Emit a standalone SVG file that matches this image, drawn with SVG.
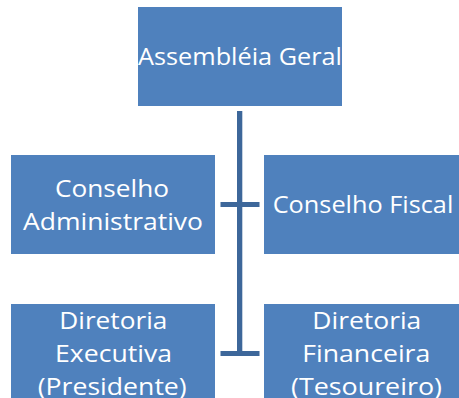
<svg xmlns="http://www.w3.org/2000/svg" width="459" height="398" viewBox="0 0 459 398">
<style>
.box{fill:#4F81BD;stroke:#ffffff;stroke-width:1}
.t{font-family:"Open Sans","Liberation Sans",Arial,sans-serif;font-size:24.5px;fill:#ffffff;}
.c{fill:#3D679A}
</style>
<rect width="459" height="398" fill="#ffffff"/>
<g id="connectors">
<rect class="c" x="237" y="111" width="5.3" height="245"/>
<rect class="c" x="220.5" y="202" width="39" height="5"/>
<rect class="c" x="220.5" y="351" width="39" height="5"/>
</g>
<g id="assembleia">
<rect class="box" x="137.5" y="6.5" width="205" height="100"/>
<text class="t" x="138" y="65" textLength="204" lengthAdjust="spacingAndGlyphs">Assembléia Geral</text>
</g>
<g id="conselho-administrativo">
<rect class="box" x="10.5" y="154.5" width="205" height="100"/>
<text class="t" x="55" y="197" textLength="114" lengthAdjust="spacingAndGlyphs">Conselho</text>
<text class="t" x="23" y="229.5" textLength="180" lengthAdjust="spacingAndGlyphs">Administrativo</text>
</g>
<g id="conselho-fiscal">
<rect class="box" x="263.5" y="154.5" width="205" height="100"/>
<text class="t" x="272.7" y="212.7" textLength="180.6" lengthAdjust="spacingAndGlyphs">Conselho Fiscal</text>
</g>
<g id="diretoria-executiva">
<rect class="box" x="10.5" y="303.5" width="205" height="100"/>
<text class="t" x="59.3" y="329" textLength="108" lengthAdjust="spacingAndGlyphs">Diretoria</text>
<text class="t" x="55" y="362" textLength="117" lengthAdjust="spacingAndGlyphs">Executiva</text>
<text class="t" x="37.7" y="395" textLength="149" lengthAdjust="spacingAndGlyphs">(Presidente)</text>
</g>
<g id="diretoria-financeira">
<rect class="box" x="263.5" y="303.5" width="205" height="100"/>
<text class="t" x="312.3" y="329" textLength="109" lengthAdjust="spacingAndGlyphs">Diretoria</text>
<text class="t" x="302.3" y="362" textLength="128" lengthAdjust="spacingAndGlyphs">Financeira</text>
<text class="t" x="291" y="395" textLength="151" lengthAdjust="spacingAndGlyphs">(Tesoureiro)</text>
</g>
</svg>
